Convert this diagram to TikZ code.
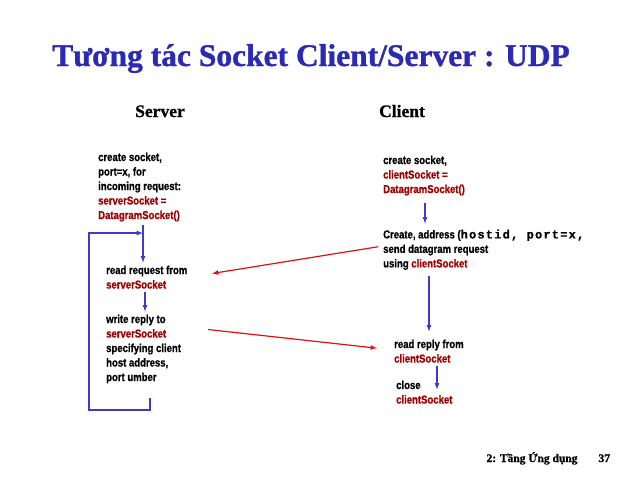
\documentclass[tikz,border=0pt]{standalone}
\usepackage{fontspec}
\setmainfont{Liberation Sans}[BoldFeatures={FakeBold=0.8,FakeStretch=0.83}]
\setmonofont{Liberation Mono}[BoldFeatures={FakeBold=0.8,LetterSpace=10}]
\newfontfamily\slidefont{Liberation Serif}[BoldFeatures={FakeBold=1}]
\usetikzlibrary{arrows,positioning}

\definecolor{titleblue}{HTML}{2A2AB4}
\definecolor{sockred}{HTML}{A00000}
\definecolor{flowblue}{HTML}{3C3CC8}
\definecolor{msgred}{HTML}{E01010}
\newcommand{\sockname}[1]{\textcolor{sockred}{#1}}

\tikzset{
	action/.style={anchor=north west,align=left,inner xsep=0pt,inner ysep=3pt,font=\bfseries\fontsize{11.5}{14.5}\selectfont},
	flow/.style={draw=flowblue,line width=1.2pt,-latex},
	msg/.style={draw=msgred,line width=1.2pt,-latex},
	side/.style={anchor=base,font=\slidefont\bfseries\fontsize{17.5}{20}\selectfont}
}

\begin{document}
\begin{tikzpicture}[x=1pt,y=-1pt]
	\useasboundingbox[fill=white] (0,0) rectangle (640,480);

	\node[anchor=base,text=titleblue,font=\slidefont\bfseries\fontsize{31.5}{34}\selectfont] (title) at (311,66) {Tương tác Socket Client/Server : UDP};
	\node[side] (srvHead) at (160,117) {Server};
	\node[side] (cliHead) at (402,117) {Client};

	% server side
	\node[action] (srvCreate) at (98,149.5) {create socket,\\port=x, for\\incoming request:\\\sockname{serverSocket =}\\\sockname{DatagramSocket()}};
	\node[action] (srvRead) at (106,262.5) {read request from\\\sockname{serverSocket}};
	\node[action] (srvWrite) at (106,311.5) {write reply to\\\sockname{serverSocket}\\specifying client\\host address,\\port umber};

	% client side
	\node[action] (cliCreate) at (383,152.5) {create socket,\\\sockname{clientSocket =}\\\sockname{DatagramSocket()}};
	\node[action] (cliSend) at (383,226.5) {Create, address ({\ttfamily\fontsize{12}{14.5}\selectfont hostid, port=x,}\\send datagram request\\using \sockname{clientSocket}};
	\node[action] (cliRead) at (394,336.5) {read reply from\\\sockname{clientSocket}};
	\node[action] (cliClose) at (396,377.5) {close\\\sockname{clientSocket}};

	\coordinate (srvX) at (143,0);
	\coordinate (srvY) at (145,0);
	\coordinate (cliX) at (425,0);
	\coordinate (cliY) at (429,0);
	\coordinate (cliZ) at (437,0);
	\coordinate (loopTop) at (150,398);
	\coordinate (loopLeft) at (89,410);
	\coordinate (loopEnd) at (143,233);

	\draw[flow] (srvCreate.south -| srvX) -- (srvRead.north -| srvX);
	\draw[flow] (srvRead.south -| srvY) -- (srvWrite.north -| srvY);
	\draw[flow] (loopTop) |- (loopLeft) |- (loopEnd);
	\draw[flow,shorten <=4pt,shorten >=3pt] (cliCreate.south -| cliX) -- (cliSend.north -| cliX);
	\draw[flow,shorten <=3pt,shorten >=5pt] (cliSend.south -| cliY) -- (cliRead.north -| cliY);
	\draw[flow] (cliRead.south -| cliZ) -- ([yshift=-12pt]cliClose.north -| cliZ);

	\draw[msg] ([xshift=-5pt,yshift=3pt]cliSend.west) -- ([xshift=106pt,yshift=-11pt]srvRead.north west);
	\draw[msg] ([xshift=102pt,yshift=-18pt]srvWrite.north west) -- ([xshift=-17pt,yshift=3pt]cliRead.west);

	\node[anchor=base west,font=\slidefont\bfseries\fontsize{11.5}{13}\selectfont] (footer) at (483,462) {2: Tầng Ứng dụng};
	\node[anchor=base west,font=\slidefont\bfseries\fontsize{11.5}{13}\selectfont] (pageNo) at (595,462) {37};
\end{tikzpicture}
\end{document}
